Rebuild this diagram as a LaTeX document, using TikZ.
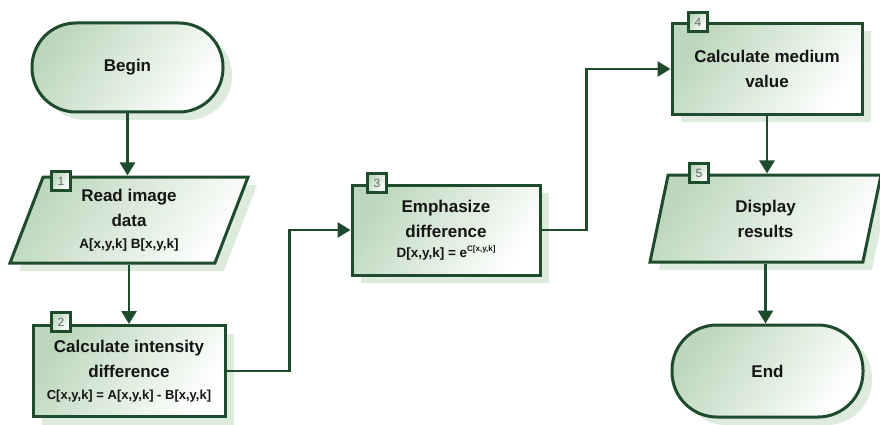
\documentclass[tikz,border=0pt]{standalone}
\usepackage{fontspec}
\setmainfont{Liberation Sans}
\usetikzlibrary{shapes.geometric,shadows,arrows.meta}
\definecolor{dkgreen}{HTML}{1E4B2B}
\definecolor{ltgreen}{HTML}{BCD7BC}
\definecolor{midgreen}{HTML}{EEF6EE}
\definecolor{shgreen}{HTML}{DCEBDC}
\definecolor{txt}{HTML}{151515}
\tikzset{
  base/.style={draw=dkgreen, line width=3pt, shade, top color=ltgreen, middle color=midgreen, bottom color=white,
    shading angle=55, align=center, text=txt, inner sep=2pt,
    font=\bfseries\fontsize{17}{25}\selectfont,
    drop shadow={shadow xshift=9pt, shadow yshift=-8pt, fill=shgreen, opacity=1}},
  stadium/.style={base, rectangle, rounded corners=44pt, minimum width=191pt, minimum height=89pt},
  procbox/.style={base, rectangle, minimum width=190pt, minimum height=91pt},
  iobox/.style={base, trapezium, trapezium stretches body, minimum height=86pt},
  badge/.style={draw=dkgreen, line width=2.5pt, shade, top color=ltgreen, bottom color=white,
    shading angle=55, minimum size=19pt, inner sep=0pt, text=black!60,
    font=\fontsize{12}{12}\selectfont},
  conn/.style={draw=dkgreen, line width=2.8pt, -{Triangle[length=13pt,width=15pt]}},
}
\newcommand{\fml}{\fontsize{13.5}{16}\selectfont}
\begin{document}
\begin{tikzpicture}[x=1pt,y=-1pt]
\useasboundingbox (0,0) rectangle (880,425);
\node[stadium] (begin) at (127.5,67.5) {Begin};
\node[iobox, minimum width=238pt, trapezium left angle=63.4, trapezium right angle=116.6] (p1) at (129,220)
  {Read image\\data\\[-3pt]{\fml A[x,y,k] B[x,y,k]}};
\node[procbox, minimum width=192pt] (box2) at (129,371)
  {Calculate intensity\\difference\\[-3pt]{\fontsize{13}{15}\selectfont C[x,y,k] = A[x,y,k] - B[x,y,k]}};
\node[procbox, minimum width=188pt, minimum height=90pt] (box3) at (446,230)
  {Emphasize\\difference\\[-5pt]{\fml D[x,y,k] = e\raisebox{6pt}{\fontsize{8}{8}\selectfont C[x,y,k]}}};
\node[procbox] (box4) at (767,69) {Calculate medium\\value};
\node[iobox, minimum width=231pt, minimum height=87pt, trapezium left angle=66.4, trapezium right angle=113.6] (p5) at (765.5,218.5)
  {Display\\results};
\node[stadium, minimum height=92pt, rounded corners=45pt] (end) at (767.5,371) {End};

\node[badge] (b1) at (61,181) {1};
\node[badge] (b2) at (61,322) {2};
\node[badge] (b3) at (377,183) {3};
\node[badge] (b4) at (698,22) {4};
\node[badge] (b5) at (699,173) {5};

\draw[conn] (begin.south) -- (begin.south |- p1.north);
\draw[conn] (p1.south) -- (p1.south |- box2.north);
\draw[conn] (box2.east) -- ++(63,0) |- (box3.west);
\draw[conn] (box3.east) -- ++(45,0) |- (box4.west);
\draw[conn] (box4.south) -- (box4.south |- p5.north);
\draw[conn] (p5.south) -- (p5.south |- end.north);
\end{tikzpicture}
\end{document}
